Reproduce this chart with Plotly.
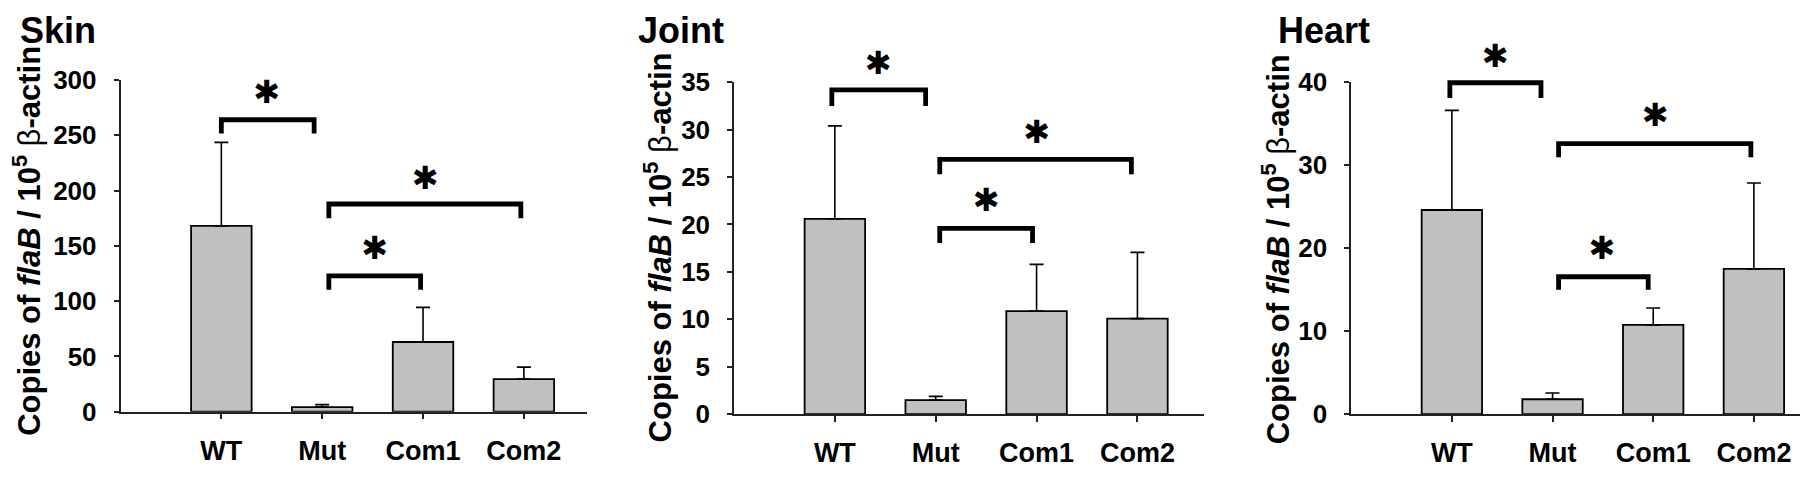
import plotly.graph_objects as go

# ---------------- data ----------------
categories = ["WT", "Mut", "Com1", "Com2"]
cat_pos = [0, 1, 2, 3]

skin_mean = [168.0, 4.2, 63.0, 29.5]
skin_err = [75.5, 2.2, 31.3, 10.8]
joint_mean = [20.6, 1.48, 10.87, 10.08]
joint_err = [9.8, 0.40, 4.93, 6.98]
heart_mean = [24.6, 1.8, 10.76, 17.5]
heart_err = [12.0, 0.76, 2.04, 10.35]

panel_titles = ["Skin", "Joint", "Heart"]
y_max = [300, 35, 40]
y_dtick = [50, 5, 10]

# significance brackets: left x, right x, top y, leg-bottom y  (data units)
skin_br_left = [0.0, 1.066, 1.066]
skin_br_right = [0.92, 2.97, 1.976]
skin_br_top = [264.0, 187.8, 122.9]
skin_br_bottom = [251.6, 175.0, 110.2]
skin_star_x = [0.45, 2.02, 1.52]
skin_star_y = [286.7, 209.0, 145.4]

joint_br_left = [-0.03, 1.04, 1.04]
joint_br_right = [0.90, 2.94, 1.96]
joint_br_top = [34.18, 26.87, 19.6]
joint_br_bottom = [32.5, 25.3, 18.05]
joint_star_x = [0.43, 2.0, 1.50]
joint_star_y = [36.7, 29.4, 22.3]

heart_br_left = [-0.02, 1.06, 1.06]
heart_br_right = [0.885, 2.97, 1.95]
heart_br_top = [39.93, 32.6, 16.56]
heart_br_bottom = [38.1, 30.97, 14.98]
heart_star_x = [0.43, 2.02, 1.49]
heart_star_y = [42.8, 35.7, 19.68]

# ---------------- layout geometry ----------------
W, H = 1800, 477
x_domains = [(120.5, 587.4), (734.0, 1204.0), (1351.2, 1800.0)]
x_ranges = [(-1, 3.63), (-1, 3.66), (-1, 3.458)]
y_domains = [(423.3, 69.3), (426.0, 71.7), (426.0, 71.7)]  # (px of value 0, px of top value), from top

FONT = "Liberation Sans, Arial, sans-serif"
BAR_FILL = "#C0C0C0"

fig = go.Figure()

means = [skin_mean, joint_mean, heart_mean]
errs = [skin_err, joint_err, heart_err]
brs = [
    (skin_br_left, skin_br_right, skin_br_top, skin_br_bottom, skin_star_x, skin_star_y),
    (joint_br_left, joint_br_right, joint_br_top, joint_br_bottom, joint_star_x, joint_star_y),
    (heart_br_left, heart_br_right, heart_br_top, heart_br_bottom, heart_star_x, heart_star_y),
]

for i in range(3):
    xa = "x" if i == 0 else f"x{i+1}"
    ya = "y" if i == 0 else f"y{i+1}"
    ya_ext = f"y{i+4}"  # invisible axis with same scale, extended up to the figure top
    fig.add_trace(go.Bar(
        x=cat_pos, y=means[i], width=0.6,
        marker=dict(color=BAR_FILL, line=dict(color="#000000", width=1.8)),
        error_y=dict(type="data", array=errs[i], arrayminus=[0] * 4, symmetric=False,
                     thickness=1.6, width=7, color="#000000"),
        xaxis=xa, yaxis=ya, showlegend=False, hoverinfo="skip",
    ))
    bl, brr, bt, bb, sx, sy = brs[i]
    for k in range(len(bl)):
        fig.add_trace(go.Scatter(
            x=[bl[k], bl[k], brr[k], brr[k]],
            y=[bb[k], bt[k], bt[k], bb[k]],
            mode="lines", line=dict(color="#000000", width=4.8),
            cliponaxis=False, xaxis=xa, yaxis=ya_ext, showlegend=False, hoverinfo="skip",
        ))
    fig.add_trace(go.Scatter(
        x=sx, y=sy, mode="text", text=["✱"] * len(sx), textposition="middle center",
        textfont=dict(family="DejaVu Sans", size=32, color="#000000"),
        cliponaxis=False, xaxis=xa, yaxis=ya_ext, showlegend=False, hoverinfo="skip",
    ))

layout = dict(
    width=W, height=H, margin=dict(l=0, r=0, t=0, b=0),
    paper_bgcolor="white", plot_bgcolor="rgba(0,0,0,0)",
    font=dict(family=FONT, color="#000000"),
)

for i in range(3):
    xk = "xaxis" if i == 0 else f"xaxis{i+1}"
    yk = "yaxis" if i == 0 else f"yaxis{i+1}"
    yk_ext = f"yaxis{i+4}"
    ya = "y" if i == 0 else f"y{i+1}"
    xa = "x" if i == 0 else f"x{i+1}"
    x0, x1 = x_domains[i]
    y0px, y1px = y_domains[i]
    dom_lo = (H - y0px) / H
    dom_hi = (H - y1px) / H
    layout[xk] = dict(
        domain=[x0 / W, x1 / W], range=list(x_ranges[i]), anchor=ya,
        tickmode="array", tickvals=cat_pos, ticktext=categories,
        ticks="outside", ticklen=6, tickwidth=1.5, tickcolor="#222222",
        showline=True, linecolor="#222222", linewidth=1.5,
        showgrid=False, zeroline=False, fixedrange=True,
        tickfont=dict(family=FONT, size=27, color="#000000", weight="bold"),
        ticklabelstandoff=8,
    )
    layout[yk] = dict(
        domain=[dom_lo, dom_hi], range=[0, y_max[i]], anchor=xa,
        dtick=y_dtick[i], tick0=0,
        ticks="outside", ticklen=5, tickwidth=1.5, tickcolor="#222222",
        showline=True, linecolor="#222222", linewidth=1.5,
        showgrid=False, zeroline=False, fixedrange=True,
        tickfont=dict(family=FONT, size=26, color="#000000", weight="bold"),
        ticklabelstandoff=12,
    )
    # same scale as the visible axis, but reaching the top of the figure
    ext_hi = 1.0
    layout[yk_ext] = dict(
        domain=[dom_lo, ext_hi], range=[0, y_max[i] * (ext_hi - dom_lo) / (dom_hi - dom_lo)],
        anchor=xa, visible=False, fixedrange=True, showgrid=False, zeroline=False,
    )

fig.update_layout(**layout)

# panel titles
title_x = [18, 636, 1276]
for i in range(3):
    fig.add_annotation(
        x=title_x[i] / W, y=1 - 17 / H, xref="paper", yref="paper",
        xanchor="left", yanchor="middle", showarrow=False,
        text=f"<b>{panel_titles[i]}</b>", font=dict(family=FONT, size=36, color="#000000"),
    )

# y-axis titles
ytitle_x = [27, 658, 1276]
ytitle_y = [241, 248, 250]
for i in range(3):
    fig.add_annotation(
        x=ytitle_x[i] / W, y=1 - ytitle_y[i] / H, xref="paper", yref="paper",
        xanchor="center", yanchor="middle", showarrow=False, textangle=-90,
        text="<b>Copies of <i>flaB</i> / 10<sup>5</sup> </b>β<b>-actin</b>",
        font=dict(family=FONT, size=31, color="#000000"),
    )

fig.write_html(
    "out.html",
    config={"displayModeBar": False},
    post_script="document.body.style.margin='0px';document.body.style.overflow='hidden';",
)
